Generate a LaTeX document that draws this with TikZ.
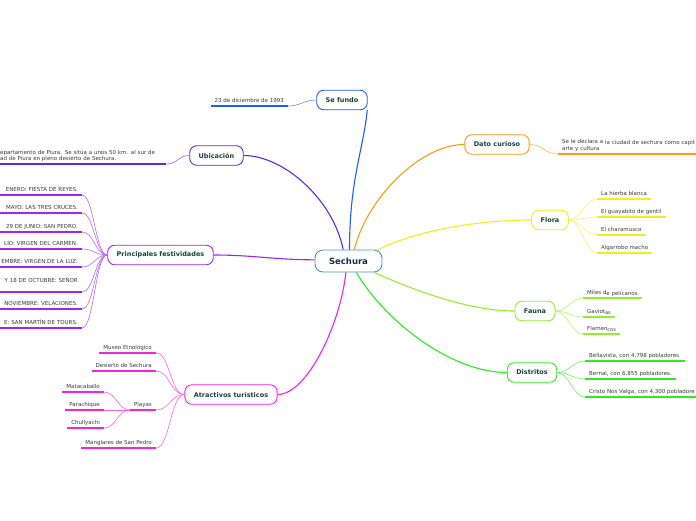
\documentclass[tikz,border=0pt]{standalone}
\usepackage{fontspec}
\setmainfont{DejaVu Sans}
\usepackage{xcolor}
\usepackage{tikz}
\usetikzlibrary{positioning}

\definecolor{cRoot}{HTML}{4A90D9}
\definecolor{cFundo}{HTML}{1F5BFF}
\definecolor{cUbic}{HTML}{5B2BE6}
\definecolor{cFest}{HTML}{A224EE}
\definecolor{cAtrac}{HTML}{F622DC}
\definecolor{cDato}{HTML}{FF9B0F}
\definecolor{cFlora}{HTML}{F2EE1E}
\definecolor{cFauna}{HTML}{96EE2A}
\definecolor{cDistr}{HTML}{2CEB1E}
\definecolor{labeltext}{HTML}{14443A}
\definecolor{roottext}{HTML}{1D2B4F}
\definecolor{leaftext}{HTML}{3A3A3A}

\begin{document}
\begin{tikzpicture}[
    x=1pt, y=-1pt,
    rootbox/.style={draw=cRoot, line width=0.9pt, fill=white, rounded corners=8pt, minimum width=67pt, minimum height=22pt, font=\fontsize{8.5}{10}\selectfont\bfseries, text=roottext},
    topic/.style={draw=#1, line width=0.9pt, fill=white, rounded corners=7pt, minimum height=19.5pt, inner xsep=9pt, font=\fontsize{6.5}{7.5}\selectfont\bfseries, text=labeltext},
    leaf/.style={inner xsep=4pt, inner ysep=1.5pt, text height=4.2pt, text depth=1.5pt, font=\fontsize{5.5}{6.5}\selectfont, text=leaftext},
    note/.style={inner xsep=4pt, inner ysep=2pt, align=left, font=\fontsize{5.5}{5.8}\selectfont, text=leaftext},
    uline/.style={draw=#1, line width=1.3pt},
    branch/.style={draw=#1, line width=1.1pt},
    twig/.style={draw=#1!70, line width=0.6pt}
]
\useasboundingbox (0,0) rectangle (696,520);
\clip (0,0) rectangle (696,520);
\fill[white] (0,0) rectangle (696,520);

% central topic and main topics
\node[rootbox] (sech) at (348.5,261) {Sechura};
\node[topic=cFundo] (fundo) at (342,100) {Se fundo};
\node[topic=cUbic] (ubic) at (216.5,155.5) {Ubicación};
\node[topic=cFest] (fest) at (160.5,255) {Principales festividades};
\node[topic=cAtrac] (atrac) at (231,394.5) {Atractivos turísticos};
\node[topic=cDato] (dato) at (497,144.5) {Dato curioso};
\node[topic=cFlora] (flora) at (550,220) {Flora};
\node[topic=cFauna] (fauna) at (535,311) {Fauna};
\node[topic=cDistr] (distr) at (532,372.5) {Distritos};

\draw[branch=cFundo] (sech.85) .. controls +(0,-70) and +(-4,40) .. (fundo.-22);
\draw[branch=cUbic] (sech.115) .. controls +(-10,-50) and +(40,0) .. (ubic.east);
\draw[branch=cFest] (sech.178) .. controls +(-40,0) and +(40,0) .. (fest.east);
\draw[branch=cAtrac] (sech.-103) .. controls +(-5,50) and +(30,0) .. (atrac.east);
\draw[branch=cDato] (sech.63) .. controls +(12,-50) and +(-45,0) .. (dato.west);
\draw[branch=cFlora] (sech.21) .. controls +(40,-20) and +(-50,0) .. (flora.west);
\draw[branch=cFauna] (sech.-24) .. controls +(40,18) and +(-45,0) .. (fauna.west);
\draw[branch=cDistr] (sech.-56) .. controls +(30,50) and +(-55,0) .. (distr.west);

% Se fundo
\node[leaf, anchor=south east] (fecha) at (288,106) {23 de diciembre de 1993};
\draw[uline=cFundo] (fecha.south west) -- (fecha.south east);
\draw[twig=cFundo] (fundo.west) .. controls +(-12,0) and +(12,0) .. (fecha.south east);

% Ubicacion
\node[note, anchor=south west, text width=162pt] (lugar) at (-4,164) {epartamento de Piura. Se sitúa a unos 50 km. al sur de\\ad de Piura en pleno desierto de Sechura.};
\draw[uline=cUbic] (lugar.south west) -- (lugar.south east);
\draw[twig=cUbic] (ubic.west) .. controls +(-12,0) and +(12,0) .. (lugar.south east);

% Principales festividades
\node[leaf, anchor=south east, text width=90pt, align=right] (fe1) at (82,195) {ENERO: FIESTA DE REYES.};
\node[leaf, anchor=south east, text width=90pt, align=right] (fe2) at (82,213) {MAYO: LAS TRES CRUCES.};
\node[leaf, anchor=south east, text width=90pt, align=right] (fe3) at (82,232) {29 DE JUNIO: SAN PEDRO.};
\node[leaf, anchor=south east, text width=90pt, align=right] (fe4) at (82,249) {LIO: VIRGEN DEL CARMEN.};
\node[leaf, anchor=south east, text width=90pt, align=right] (fe5) at (82,267) {EMBRE: VIRGEN DE LA LUZ.};
\node[note, anchor=south east, text width=90pt, align=right] (fe6) at (82,292) {Y 18 DE OCTUBRE: SEÑOR\hspace*{3pt}\\[2pt]\mbox{}\\[-1pt]};
\node[leaf, anchor=south east, text width=90pt, align=right] (fe7) at (82,309) {NOVIEMBRE: VELACIONES.};
\node[leaf, anchor=south east, text width=90pt, align=right] (fe8) at (82,328) {E: SAN MARTÍN DE TOURS.};
\draw[uline=cFest] (fe1.south west) -- (fe1.south east);
\draw[uline=cFest] (fe2.south west) -- (fe2.south east);
\draw[uline=cFest] (fe3.south west) -- (fe3.south east);
\draw[uline=cFest] (fe4.south west) -- (fe4.south east);
\draw[uline=cFest] (fe5.south west) -- (fe5.south east);
\draw[uline=cFest] (fe6.south west) -- (fe6.south east);
\draw[uline=cFest] (fe7.south west) -- (fe7.south east);
\draw[uline=cFest] (fe8.south west) -- (fe8.south east);
\draw[twig=cFest] (fest.west) .. controls +(-12,0) and +(12,0) .. (fe1.south east);
\draw[twig=cFest] (fest.west) .. controls +(-12,0) and +(12,0) .. (fe2.south east);
\draw[twig=cFest] (fest.west) .. controls +(-12,0) and +(12,0) .. (fe3.south east);
\draw[twig=cFest] (fest.west) .. controls +(-12,0) and +(12,0) .. (fe4.south east);
\draw[twig=cFest] (fest.west) .. controls +(-12,0) and +(12,0) .. (fe5.south east);
\draw[twig=cFest] (fest.west) .. controls +(-12,0) and +(12,0) .. (fe6.south east);
\draw[twig=cFest] (fest.west) .. controls +(-12,0) and +(12,0) .. (fe7.south east);
\draw[twig=cFest] (fest.west) .. controls +(-12,0) and +(12,0) .. (fe8.south east);

% Atractivos turisticos
\node[leaf, anchor=south east] (museo) at (156,353) {Museo Etnológico};
\node[leaf, anchor=south east] (desierto) at (156,371) {Desierto de Sechura};
\node[leaf, anchor=south east] (playas) at (156,410) {Playas};
\node[leaf, anchor=south east] (manglar) at (156,448) {Manglares de San Pedro};
\node[leaf, anchor=south east] (mata) at (104,392) {Matacaballo};
\node[leaf, anchor=south east] (para) at (104,410) {Parachique};
\node[leaf, anchor=south east] (chull) at (104,428) {Chullyachi};
\draw[uline=cAtrac] (museo.south west) -- (museo.south east);
\draw[uline=cAtrac] (desierto.south west) -- (desierto.south east);
\draw[uline=cAtrac] (playas.south west) -- (playas.south east);
\draw[uline=cAtrac] (manglar.south west) -- (manglar.south east);
\draw[uline=cAtrac] (mata.south west) -- (mata.south east);
\draw[uline=cAtrac] (para.south west) -- (para.south east);
\draw[uline=cAtrac] (chull.south west) -- (chull.south east);
\draw[twig=cAtrac] (atrac.west) .. controls +(-14,0) and +(14,0) .. (museo.south east);
\draw[twig=cAtrac] (atrac.west) .. controls +(-14,0) and +(14,0) .. (desierto.south east);
\draw[twig=cAtrac] (atrac.west) .. controls +(-14,0) and +(14,0) .. (playas.south east);
\draw[twig=cAtrac] (atrac.west) .. controls +(-14,0) and +(14,0) .. (manglar.south east);
\draw[twig=cAtrac] (playas.south west) .. controls +(-12,0) and +(12,0) .. (mata.south east);
\draw[twig=cAtrac] (playas.south west) -- (para.south east);
\draw[twig=cAtrac] (playas.south west) .. controls +(-12,0) and +(12,0) .. (chull.south east);

% Dato curioso
\node[note, anchor=south west, text width=140pt] (decl) at (558,154) {\raisebox{1pt}{Se le declara a} la ciudad de sechura como capit\\arte y cultura};
\draw[uline=cDato] (decl.south west) -- (decl.south east);
\draw[twig=cDato] (dato.east) .. controls +(14,0) and +(-14,0) .. (decl.south west);

% Flora
\node[leaf, anchor=south west] (fl1) at (597,199) {La hierba blanca};
\node[leaf, anchor=south west] (fl2) at (597,217) {El guayabito de gentil};
\node[leaf, anchor=south west] (fl3) at (597,235) {El charamusco};
\node[leaf, anchor=south west] (fl4) at (597,253) {Algarrobo macho};
\draw[uline=cFlora] (fl1.south west) -- (fl1.south east);
\draw[uline=cFlora] (fl2.south west) -- (fl2.south east);
\draw[uline=cFlora] (fl3.south west) -- (fl3.south east);
\draw[uline=cFlora] (fl4.south west) -- (fl4.south east);
\draw[twig=cFlora] (flora.east) .. controls +(12,0) and +(-12,0) .. (fl1.south west);
\draw[twig=cFlora] (flora.east) .. controls +(12,0) and +(-12,0) .. (fl2.south west);
\draw[twig=cFlora] (flora.east) .. controls +(12,0) and +(-12,0) .. (fl3.south west);
\draw[twig=cFlora] (flora.east) .. controls +(12,0) and +(-12,0) .. (fl4.south west);

% Fauna
\node[leaf, anchor=south west] (fa1) at (583,298) {Miles d\raisebox{-0.7pt}{e pelícanos}};
\node[leaf, anchor=south west] (fa2) at (583,317) {Gaviot\raisebox{-1pt}{\fontsize{5}{5.5}\selectfont as}};
\node[leaf, anchor=south west] (fa3) at (583,334) {Flamen\raisebox{-1pt}{\fontsize{5}{5.5}\selectfont cos}};
\draw[uline=cFauna] (fa1.south west) -- (fa1.south east);
\draw[uline=cFauna] (fa2.south west) -- (fa2.south east);
\draw[uline=cFauna] (fa3.south west) -- (fa3.south east);
\draw[twig=cFauna] (fauna.east) .. controls +(12,0) and +(-12,0) .. (fa1.south west);
\draw[twig=cFauna] (fauna.east) .. controls +(12,0) and +(-12,0) .. (fa2.south west);
\draw[twig=cFauna] (fauna.east) .. controls +(12,0) and +(-12,0) .. (fa3.south west);

% Distritos
\node[leaf, anchor=south west] (di1) at (585,361) {Bellavista, con 4,798 pobladores.};
\node[leaf, anchor=south west] (di2) at (585,379) {Bernal, con 6,855 pobladores.};
\node[leaf, anchor=south west, text width=120pt] (di3) at (585,397) {Cristo Nos Valga, con 4,300 pobladore};
\draw[uline=cDistr] (di1.south west) -- (di1.south east);
\draw[uline=cDistr] (di2.south west) -- (di2.south east);
\draw[uline=cDistr] (di3.south west) -- (di3.south east);
\draw[twig=cDistr] (distr.east) .. controls +(12,0) and +(-12,0) .. (di1.south west);
\draw[twig=cDistr] (distr.east) .. controls +(12,0) and +(-12,0) .. (di2.south west);
\draw[twig=cDistr] (distr.east) .. controls +(12,0) and +(-12,0) .. (di3.south west);
\end{tikzpicture}
\end{document}
